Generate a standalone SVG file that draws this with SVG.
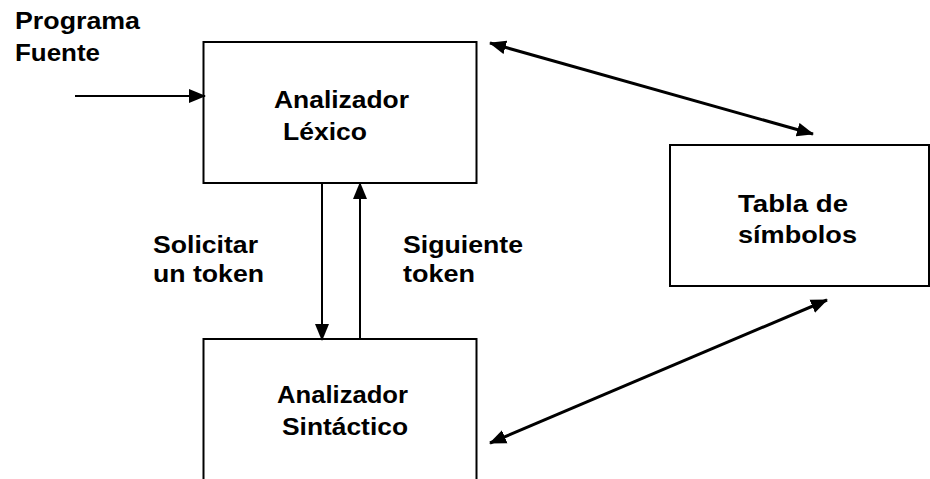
<svg xmlns="http://www.w3.org/2000/svg" width="930" height="479" viewBox="0 0 930 479">
<style>
.box{fill:#fff;stroke:#000;stroke-width:2}
.t{font-family:"Liberation Sans",Arial,sans-serif;font-weight:bold;font-size:24px;fill:#000}
.c{fill:none;stroke:#000;stroke-width:2}
.d{fill:none;stroke:#000;stroke-width:3}
</style>
<defs>
<marker id="ah" markerUnits="userSpaceOnUse" markerWidth="18" markerHeight="15" refX="16" refY="7" orient="auto-start-reverse" viewBox="0 0 18 14">
<path d="M0,0 L17,7 L0,14 z" fill="#000"/>
</marker>
</defs>
<rect width="930" height="479" fill="#fff"/>
<g id="programa-fuente">
<text class="t" x="15" y="29" textLength="125" lengthAdjust="spacingAndGlyphs">Programa</text>
<text class="t" x="15" y="61" textLength="85" lengthAdjust="spacingAndGlyphs">Fuente</text>
</g>
<g id="lexico">
<rect class="box" x="203.5" y="42" width="273" height="141"/>
<text class="t" x="274" y="108" textLength="135" lengthAdjust="spacingAndGlyphs">Analizador</text>
<text class="t" x="283" y="140" textLength="84" lengthAdjust="spacingAndGlyphs">Léxico</text>
</g>
<g id="sintactico">
<rect class="box" x="203.5" y="339" width="273" height="160"/>
<text class="t" x="277" y="403" textLength="131" lengthAdjust="spacingAndGlyphs">Analizador</text>
<text class="t" x="282" y="435" textLength="126" lengthAdjust="spacingAndGlyphs">Sintáctico</text>
</g>
<g id="tabla">
<rect class="box" x="670" y="145" width="259" height="141"/>
<text class="t" x="738" y="212" textLength="110" lengthAdjust="spacingAndGlyphs">Tabla de</text>
<text class="t" x="738" y="243" textLength="119" lengthAdjust="spacingAndGlyphs">símbolos</text>
</g>
<g id="connectors">
<line class="c" x1="75" y1="96" x2="205" y2="96" marker-end="url(#ah)"/>
<line class="c" x1="322" y1="183" x2="322" y2="340" marker-end="url(#ah)"/>
<line class="c" x1="360" y1="340" x2="360" y2="183" marker-end="url(#ah)"/>
<line class="d" x1="490" y1="43" x2="813" y2="134" marker-start="url(#ah)" marker-end="url(#ah)"/>
<line class="d" x1="490" y1="443" x2="827" y2="300" marker-start="url(#ah)" marker-end="url(#ah)"/>
</g>
<g id="labels">
<text class="t" x="153" y="253" textLength="105" lengthAdjust="spacingAndGlyphs">Solicitar</text>
<text class="t" x="153" y="282" textLength="111" lengthAdjust="spacingAndGlyphs">un token</text>
<text class="t" x="403" y="253" textLength="120" lengthAdjust="spacingAndGlyphs">Siguiente</text>
<text class="t" x="403" y="282" textLength="72" lengthAdjust="spacingAndGlyphs">token</text>
</g>
</svg>
